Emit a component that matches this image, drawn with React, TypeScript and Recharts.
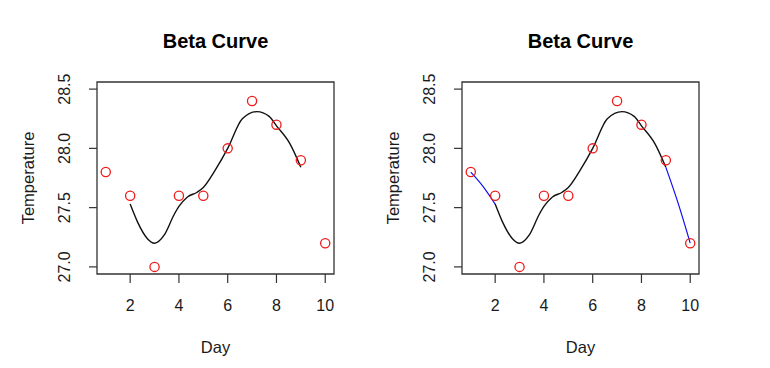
import {
  ComposedChart,
  Line,
  ReferenceArea,
  Scatter,
  XAxis,
  YAxis,
} from "recharts";

const days = [1, 2, 3, 4, 5, 6, 7, 8, 9, 10];
const temps = [27.8, 27.6, 27.0, 27.6, 27.6, 28.0, 28.4, 28.2, 27.9, 27.2];

// smoothed curve (day 2 .. 9)
const curveDays = [2, 2.3, 2.7, 3.0, 3.4, 3.8, 4.0, 4.35, 4.75, 5.0, 5.5, 6.0, 6.6, 7.2, 7.7, 8.0, 8.55, 9.0];
const curveTemps = [27.53, 27.38, 27.24, 27.2, 27.27, 27.44, 27.51, 27.59, 27.63, 27.67, 27.82, 28.0, 28.25, 28.31, 28.27, 28.19, 28.04, 27.84];

// extrapolated ends (right panel only)
const headDays = [1, 1.5, 2];
const headTemps = [27.8, 27.68, 27.53];
const tailDays = [9, 9.5, 10];
const tailTemps = [27.84, 27.54, 27.2];

const xTicks = [2, 4, 6, 8, 10];
const yTicks = [27, 27.5, 28, 28.5];
const xDomain: [number, number] = [0.64, 10.36];
const yDomain: [number, number] = [26.94, 28.56];

const FONT = "'Liberation Sans', Arial, Helvetica, sans-serif";

const toRows = (xs: number[], ys: number[]) =>
  xs.map((day, i) => ({ day, temp: ys[i] }));

const points = toRows(days, temps);
const curve = toRows(curveDays, curveTemps);
const head = toRows(headDays, headTemps);
const tail = toRows(tailDays, tailTemps);

const YTick = (props: any) => {
  const { x, y, payload } = props;
  return (
    <text
      x={x}
      y={y}
      transform={`rotate(-90, ${x}, ${y})`}
      textAnchor="middle"
      fontSize={16}
      fontFamily={FONT}
      fill="#1a1a1a"
    >
      {Number(payload.value).toFixed(1)}
    </text>
  );
};

const Circle = (props: any) => (
  <circle
    cx={props.cx}
    cy={props.cy}
    r={4.6}
    fill="none"
    stroke="#f01818"
    strokeWidth={1.3}
  />
);

const Panel = ({
  left,
  marginLeft,
  marginRight,
  extended,
}: {
  left: number;
  marginLeft: number;
  marginRight: number;
  extended: boolean;
}) => {
  const boxLeft = marginLeft + 60;
  const boxRight = 385 - marginRight;
  return (
    <div style={{ position: "absolute", left, top: 0, width: 385, height: 368 }}>
      <div
        style={{
          position: "absolute",
          left: boxLeft,
          width: boxRight - boxLeft,
          top: 31,
          textAlign: "center",
          fontFamily: FONT,
          fontWeight: "bold",
          fontSize: 20,
          lineHeight: "20px",
          color: "#000",
        }}
      >
        Beta Curve
      </div>
      <ComposedChart
        width={385}
        height={368}
        data={points}
        margin={{ top: 82, right: marginRight, bottom: 64, left: marginLeft }}
      >
        <XAxis
          type="number"
          dataKey="day"
          domain={xDomain}
          ticks={xTicks}
          allowDataOverflow
          height={30}
          axisLine={false}
          tickSize={9}
          tickMargin={17}
          tickLine={{ stroke: "#333", strokeWidth: 1.2 }}
          tick={{ fontSize: 16, fontFamily: FONT, fill: "#1a1a1a" }}
          label={{
            content: (p: any) => {
              const vb = p.viewBox;
              return (
                <text
                  x={vb.x + vb.width / 2}
                  y={vb.y + 79}
                  textAnchor="middle"
                  fontSize={16.5}
                  fontFamily={FONT}
                  fill="#1a1a1a"
                >
                  Day
                </text>
              );
            },
          }}
        />
        <YAxis
          type="number"
          dataKey="temp"
          domain={yDomain}
          ticks={yTicks}
          allowDataOverflow
          width={60}
          axisLine={false}
          tickSize={8}
          tickMargin={19}
          tickLine={{ stroke: "#333", strokeWidth: 1.2 }}
          tick={<YTick />}
          label={{
            content: (p: any) => {
              const vb = p.viewBox;
              const lx = vb.x + vb.width - 63;
              const ly = vb.y + vb.height / 2;
              return (
                <text
                  x={lx}
                  y={ly}
                  transform={`rotate(-90, ${lx}, ${ly})`}
                  textAnchor="middle"
                  fontSize={16.5}
                  fontFamily={FONT}
                  fill="#1a1a1a"
                >
                  Temperature
                </text>
              );
            },
          }}
        />
        <ReferenceArea
          x1={xDomain[0]}
          x2={xDomain[1]}
          y1={yDomain[0]}
          y2={yDomain[1]}
          fill="none"
          stroke="#333"
          strokeWidth={1.3}
        />
        {extended && (
          <Line
            data={head}
            dataKey="temp"
            type="monotone"
            stroke="#1010ee"
            strokeWidth={1.2}
            dot={false}
            activeDot={false}
            isAnimationActive={false}
          />
        )}
        {extended && (
          <Line
            data={tail}
            dataKey="temp"
            type="monotone"
            stroke="#1010ee"
            strokeWidth={1.2}
            dot={false}
            activeDot={false}
            isAnimationActive={false}
          />
        )}
        <Line
          data={curve}
          dataKey="temp"
          type="monotone"
          stroke="#111"
          strokeWidth={1.4}
          dot={false}
          activeDot={false}
          isAnimationActive={false}
        />
        <Scatter
          data={points}
          dataKey="temp"
          shape={<Circle />}
          isAnimationActive={false}
        />
      </ComposedChart>
    </div>
  );
};

export default function App() {
  return (
    <div
      style={{
        position: "absolute",
        left: 0,
        top: 0,
        width: 770,
        height: 368,
        background: "#fff",
        overflow: "hidden",
      }}
    >
      <Panel left={0} marginLeft={37} marginRight={51} extended={false} />
      <Panel left={385} marginLeft={17} marginRight={71} extended={true} />
    </div>
  );
}
